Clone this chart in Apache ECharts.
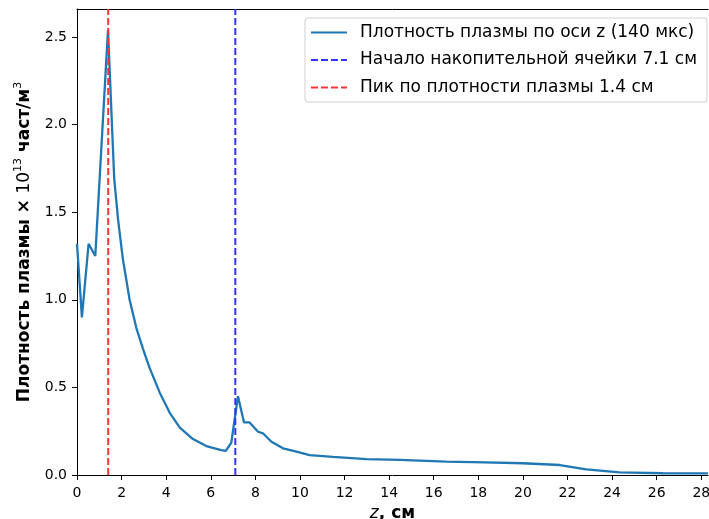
<!DOCTYPE html>
<html>
<head>
<meta charset="utf-8">
<script src="https://cdn.jsdelivr.net/npm/echarts@6/dist/echarts.min.js"></script>
<style>
  html, body { margin: 0; padding: 0; background: #fff; }
  #chart { width: 709px; height: 519px; }
</style>
</head>
<body>
<div id="chart"></div>
<script>
// положение по оси z, см
var zPos = [0, 0.22, 0.52, 0.82, 1.39, 1.67, 1.84, 2.06, 2.36, 2.66, 2.81, 2.96, 3.26, 3.71, 4.16, 4.61, 5.2, 5.8, 6.47, 6.67, 6.92,
            7.22, 7.49, 7.74, 8.12, 8.34, 8.72, 9.24, 9.84, 10.43, 11.48, 12.98, 14.47, 16.56, 18.3, 20.0, 21.65,
            22.84, 24.34, 26.28, 28.3];
// плотность плазмы, x 10^13 част/м^3
var density = [1.32, 0.90, 1.32, 1.25, 2.54, 1.69, 1.46, 1.23, 1.00, 0.84, 0.78, 0.72, 0.61, 0.47, 0.355, 0.27, 0.205, 0.165, 0.142, 0.138, 0.184,
               0.45, 0.30, 0.30, 0.247, 0.238, 0.19, 0.152, 0.133, 0.114, 0.104, 0.091, 0.086, 0.076, 0.072, 0.067, 0.057,
               0.032, 0.015, 0.010, 0.009];
var cellZ = 7.1;   // начало накопительной ячейки
var peakZ = 1.4;   // пик плотности
var names = ["Плотность плазмы по оси z (140 мкс)", "Начало накопительной ячейки 7.1 см", "Пик по плотности плазмы 1.4 см"];
var xRange = [0, 28.3];
var yRange = [0, 2.66];

var curve = zPos.map(function (z, i) { return [z, density[i]]; });

var font = "DejaVu Sans";
var option = {
    animation: false,
    backgroundColor: "#fff",
    grid: { left: 77, right: 1, top: 9, bottom: 44, outerBoundsMode: "none" },
    legend: {
        orient: "vertical",
        right: 2,
        top: 18,
        padding: [6, 10, 6, 5],
        backgroundColor: "#fff",
        borderColor: "#d0d0d0",
        borderWidth: 1,
        borderRadius: 3,
        itemWidth: 36,
        itemHeight: 14,
        itemGap: 10.5,
        itemStyle: { opacity: 0 },   // без маркеров, только линия
        textStyle: { fontFamily: font, fontSize: 17, lineHeight: 17, color: "#000", padding: [0, 0, 0, 8] },
        data: names
    },
    xAxis: [{
        type: "value",
        min: xRange[0],
        max: xRange[1],
        interval: 2,
        name: "{i|z}{b|, см}",
        nameLocation: "middle",
        nameGap: 29,
        nameTextStyle: {
            rich: {
                i: { fontFamily: font, fontStyle: "italic", fontSize: 17, color: "#000" },
                b: { fontFamily: font, fontWeight: "bold", fontSize: 17, color: "#000" }
            }
        },
        axisLine: { lineStyle: { color: "#000", width: 1 } },
        axisTick: { length: 5, lineStyle: { color: "#000" } },
        axisLabel: { fontFamily: font, fontSize: 14, color: "#000", margin: 11, showMaxLabel: false },
        splitLine: { show: false }
    }, {
        // верхняя рамка
        type: "value",
        position: "top",
        min: xRange[0],
        max: xRange[1],
        axisLine: { show: true, onZero: false, lineStyle: { color: "#000", width: 1 } },
        axisTick: { show: false },
        axisLabel: { show: false },
        splitLine: { show: false }
    }],
    yAxis: {
        type: "value",
        min: yRange[0],
        max: yRange[1],
        interval: 0.5,
        name: "{b|Плотность плазмы ×}{n| 10}{s|13}{b| част/м}{s|3}",
        nameLocation: "middle",
        nameGap: 40,
        nameTextStyle: {
            rich: {
                b: { fontFamily: font, fontWeight: "bold", fontSize: 17, color: "#000", lineHeight: 24 },
                n: { fontFamily: font, fontSize: 17, color: "#000", lineHeight: 24 },
                s: { fontFamily: font, fontSize: 11, color: "#000", verticalAlign: "top", lineHeight: 13 }
            }
        },
        axisLine: { show: true, lineStyle: { color: "#000", width: 1 } },
        axisTick: { length: 5, lineStyle: { color: "#000" } },
        axisLabel: {
            fontFamily: font, fontSize: 14, color: "#000", margin: 10, showMaxLabel: false,
            formatter: function (v) { return v.toFixed(1); }
        },
        splitLine: { show: false }
    },
    series: [{
        name: names[0],
        type: "line",
        data: curve,
        symbol: "none",
        lineStyle: { color: "#1f77b4", width: 2.3 },
        itemStyle: { color: "#1f77b4" }
    }, {
        name: names[1],
        type: "line",
        data: [[cellZ, yRange[0]], [cellZ, yRange[1]]],
        symbol: "none",
        lineStyle: { color: "#3333ff", width: 2, type: [7, 3] },
        itemStyle: { color: "#3333ff" }
    }, {
        name: names[2],
        type: "line",
        data: [[peakZ, yRange[0]], [peakZ, yRange[1]]],
        symbol: "none",
        lineStyle: { color: "#ff3333", width: 2, type: [7, 3] },
        itemStyle: { color: "#ff3333" }
    }]
};

var chart = echarts.init(document.getElementById("chart"));
chart.setOption(option);
</script>
</body>
</html>
